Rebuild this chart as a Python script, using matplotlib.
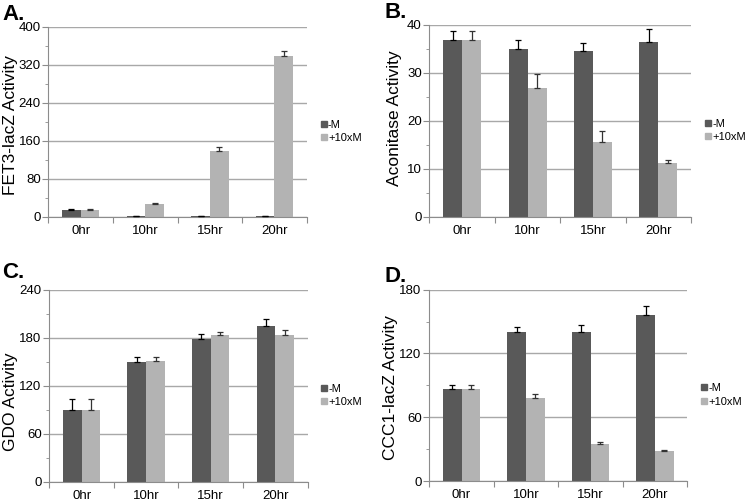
"""
Four-panel grouped bar chart (-M vs +10xM) with upward error bars.
"""

import numpy as np
import matplotlib
matplotlib.use("Agg")
import matplotlib.pyplot as plt
from matplotlib.lines import Line2D
from matplotlib.ticker import MultipleLocator, FixedLocator, NullFormatter

plt.rcParams["font.family"] = ["Liberation Sans", "DejaVu Sans"]

W, H = 745, 501

times = ["0hr", "10hr", "15hr", "20hr"]
series_names = ["-M", "+10xM"]

# panel A: FET3-lacZ
fet3_minus = [14, 2, 1.4, 1.4]
fet3_minus_err = [3.5, 1, 0.8, 0.8]
fet3_plus = [14, 27.4, 139.6, 338]
fet3_plus_err = [3.5, 1.5, 7, 11]

# panel B: aconitase
acon_minus = [36.9, 34.9, 34.5, 36.5]
acon_minus_err = [1.7, 2.0, 1.6, 2.7]
acon_plus = [36.9, 26.9, 15.6, 11.25]
acon_plus_err = [1.7, 2.8, 2.2, 0.7]

# panel C: GDO
gdo_minus = [89.6, 149.6, 178.3, 194.6]
gdo_minus_err = [13.3, 5.8, 5.9, 8.7]
gdo_plus = [89.6, 151.2, 183.3, 183.3]
gdo_plus_err = [13.3, 4.2, 3.4, 5.9]

# panel D: CCC1-lacZ
ccc1_minus = [86.5, 139.8, 139.8, 156.4]
ccc1_minus_err = [3.5, 5.3, 6.6, 8.2]
ccc1_plus = [86.5, 78.1, 35.1, 28.5]
ccc1_plus_err = [3.5, 3.4, 1.3, 1.0]

DARK = "#595959"
LIGHT = "#b3b3b3"
GRID = "#a8a8a8"
AXC = "#8c8c8c"

# letter, ylabel, data..., ymax, step, axes rect, letter pos (px), ylabel centre (px)
panels = [
    ("A.", "FET3-lacZ Activity", fet3_minus, fet3_minus_err, fet3_plus, fet3_plus_err, 400, 80,
     [0.0651, 0.5669, 0.3466, 0.3798], (2, 20), (11, 125)),
    ("B.", "Aconitase Activity", acon_minus, acon_minus_err, acon_plus, acon_plus_err, 40, 10,
     [0.5765, 0.5669, 0.3510, 0.3838], (385, 18), (394, 118)),
    ("C.", "GDO Activity", gdo_minus, gdo_minus_err, gdo_plus, gdo_plus_err, 240, 60,
     [0.0662, 0.0389, 0.3466, 0.3828], (2, 278), (11, 402)),
    ("D.", "CCC1-lacZ Activity", ccc1_minus, ccc1_minus_err, ccc1_plus, ccc1_plus_err, 180, 60,
     [0.5762, 0.0399, 0.3463, 0.3818], (385, 282), (390, 388)),
]

fig = plt.figure(figsize=(W / 100, H / 100), dpi=100)
x = np.arange(len(times))
w = 0.29

for letter, ylabel, m, me, p, pe, ymax, step, rect, lpos, ypos in panels:
    ax = fig.add_axes(rect)
    ax.set_axisbelow(True)
    ax.bar(x - w / 2, m, w, color=DARK, zorder=2)
    ax.bar(x + w / 2, p, w, color=LIGHT, zorder=2)
    ax.errorbar(x - w / 2, m, yerr=[np.zeros(4), me], fmt="none", ecolor="black",
                elinewidth=0.9, capsize=2, capthick=0.9, zorder=3)
    ax.errorbar(x + w / 2, p, yerr=[np.zeros(4), pe], fmt="none", ecolor="#333333",
                elinewidth=0.9, capsize=2, capthick=0.9, zorder=3)

    ax.set_xlim(-0.5, 3.5)
    ax.set_ylim(0, ymax)
    ax.yaxis.set_major_locator(MultipleLocator(step))
    ax.yaxis.set_minor_locator(MultipleLocator(step / 2))
    ax.grid(axis="y", which="major", color=GRID, lw=1)

    # category boundaries get tick marks, labels sit at centres
    ax.xaxis.set_major_locator(FixedLocator([-0.5, 0.5, 1.5, 2.5, 3.5]))
    ax.xaxis.set_major_formatter(NullFormatter())
    ax.xaxis.set_minor_locator(FixedLocator(x))
    ax.set_xticklabels(times, minor=True)
    ax.tick_params(axis="x", which="major", length=4, color=AXC, direction="out")
    ax.tick_params(axis="x", which="minor", length=0, labelsize=9.5, pad=6)
    ax.tick_params(axis="y", which="major", length=4, color=AXC, labelsize=9.5, pad=1.5)
    ax.tick_params(axis="y", which="minor", length=2, color=AXC)

    for s in ("top", "right"):
        ax.spines[s].set_visible(False)
    for s in ("left", "bottom"):
        ax.spines[s].set_color(AXC)

    handles = [Line2D([], [], marker="s", ls="none", color=c, markersize=4)
               for c in (DARK, LIGHT)]
    ax.legend(handles, series_names, loc="center left", bbox_to_anchor=(1.035, 0.45),
              frameon=False, fontsize=8, handlelength=0.6, handletextpad=0.1,
              labelspacing=0.3, borderaxespad=0)

    fig.text(ypos[0] / W, 1 - ypos[1] / H, ylabel, rotation=90, fontsize=12.5,
             ha="center", va="center")
    fig.text(lpos[0] / W, 1 - lpos[1] / H, letter, fontsize=16, fontweight="bold",
             ha="left", va="baseline")

fig.savefig("out.png", dpi=100)
